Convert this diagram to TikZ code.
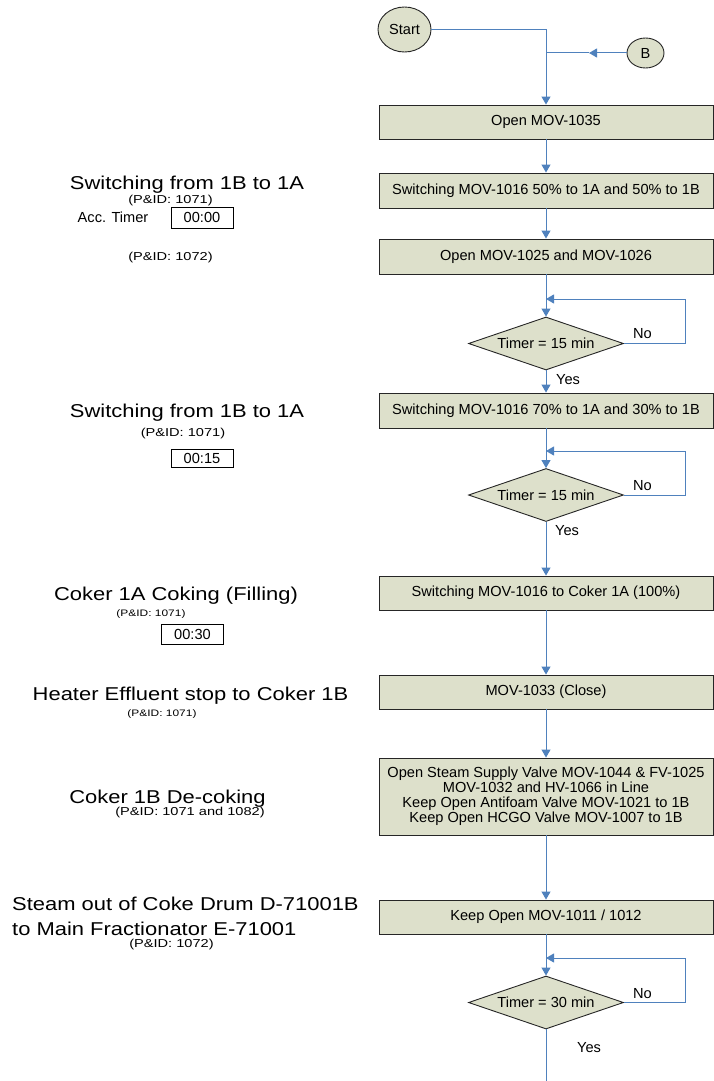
\documentclass[tikz,border=0pt]{standalone}
\usepackage{fontspec}
\setmainfont{Liberation Sans}
\newfontfamily\labelfont[FakeStretch=1.18]{Liberation Sans}
\newfontfamily\pidfont[FakeStretch=1.27]{Liberation Sans}
\usetikzlibrary{arrows.meta,shapes.geometric}
\definecolor{stepfill}{RGB}{221,224,203}
\definecolor{flowblue}{RGB}{79,129,189}
\begin{document}
\begin{tikzpicture}[x=1pt,y=-1pt,
  stepbox/.style={draw=black!85, fill=stepfill, line width=0.9pt,
    minimum width=334pt, minimum height=34pt, inner sep=0pt, align=center,
    font=\fontsize{14.6}{15}\selectfont},
  decision/.style={diamond, draw=black!85, fill=stepfill, line width=0.9pt,
    aspect=3, inner sep=0pt, minimum width=155pt, minimum height=53pt,
    font=\fontsize{14.6}{15}\selectfont},
  terminal/.style={ellipse, draw=black!85, fill=stepfill, line width=0.9pt,
    inner sep=0pt, font=\fontsize{14.6}{15}\selectfont},
  timerbox/.style={draw=black, line width=1pt, minimum width=62pt, inner sep=0pt,
    font=\fontsize{14.6}{15}\selectfont},
  flowline/.style={draw=flowblue, line width=1pt},
  flowarrow/.style={flowline, -{Triangle[width=9pt,length=8pt]}},
  biglabel/.style={anchor=base, inner sep=0pt, font=\labelfont\fontsize{18.6}{23}\selectfont},
  pid/.style={anchor=base, inner sep=0pt, font=\pidfont\fontsize{11.5}{13}\selectfont},
  smallpid/.style={anchor=base, inner sep=0pt, font=\pidfont\fontsize{9.4}{11}\selectfont},
  plain/.style={anchor=base, inner sep=0pt, font=\fontsize{14.6}{15}\selectfont},
]
\useasboundingbox (0,0) rectangle (714,1081);

% terminals
\node[terminal, minimum width=53pt, minimum height=45pt] (start) at (404.5,29.5) {Start};
\node[terminal, minimum width=37pt, minimum height=30pt] (bref) at (645.5,53) {B};

% process steps
\node[stepbox] (s1) at (546,122) {Open MOV-1035};
\node[stepbox, minimum height=35pt] (s2) at (546,190.5) {Switching MOV-1016 50\% to 1A and 50\% to 1B};
\node[stepbox, minimum height=35pt] (s3) at (546,256.5) {Open MOV-1025 and MOV-1026};
\node[decision] (d1) at (546,343.5) {Timer = 15 min};
\node[stepbox, minimum height=35pt] (s4) at (546,410.5) {Switching MOV-1016 70\% to 1A and 30\% to 1B};
\node[decision] (d2) at (546,495) {Timer = 15 min};
\node[stepbox] (s5) at (546,593) {Switching MOV-1016 to Coker 1A (100\%)};
\node[stepbox] (s6) at (546,692) {MOV-1033 (Close)};
\node[stepbox, minimum height=77pt] (s7) at (546,796.5) {Open Steam Supply Valve MOV-1044 \& FV-1025\\
  MOV-1032 and HV-1066 in Line\\ Keep Open Antifoam Valve MOV-1021 to 1B\\
  Keep Open HCGO Valve MOV-1007 to 1B};
\node[stepbox] (s8) at (546,917) {Keep Open MOV-1011 / 1012};
\node[decision] (d3) at (546,1002.5) {Timer = 30 min};

% junction points
\coordinate (jtop) at (546,29.5);
\coordinate (bjoin) at (546,53);
\coordinate (bmid) at (589,53);
\coordinate (r1) at (685,299);
\coordinate (m1) at (546,299);
\coordinate (r2) at (685,451);
\coordinate (m2) at (546,451);
\coordinate (r3) at (685,958);
\coordinate (m3) at (546,958);
\coordinate (tail) at (546,1081);

% connectors
\draw[flowarrow] (start.east) -- (jtop) -- (s1.north);
\draw[flowarrow] (bref.west) -- (bmid);
\draw[flowline] (bmid) -- (bjoin);
\draw[flowarrow] (s1) -- (s2);
\draw[flowarrow] (s2) -- (s3);
\draw[flowarrow] (s3) -- (d1);
\draw[flowarrow] (d1.east) -| (r1) -- (m1);
\draw[flowarrow] (d1) -- (s4);
\draw[flowarrow] (s4) -- (d2);
\draw[flowarrow] (d2.east) -| (r2) -- (m2);
\draw[flowarrow] (d2) -- (s5);
\draw[flowarrow] (s5) -- (s6);
\draw[flowarrow] (s6) -- (s7);
\draw[flowarrow] (s7) -- (s8);
\draw[flowarrow] (s8) -- (d3);
\draw[flowarrow] (d3.east) -| (r3) -- (m3);
\draw[flowline] (d3.south) -- (tail);

% branch labels
\node[plain, anchor=base west] (no1) at (633,338) {No};
\node[plain, anchor=base west] (yes1) at (556,384) {Yes};
\node[plain, anchor=base west] (no2) at (633,490) {No};
\node[plain, anchor=base west] (yes2) at (555,535) {Yes};
\node[plain, anchor=base west] (no3) at (633,998) {No};
\node[plain, anchor=base west] (yes3) at (577,1052) {Yes};

% stage descriptions
\node[biglabel] (t1) at (187,189) {Switching from 1B to 1A};
\node[pid] (p1) at (170.5,203) {(P\&ID: 1071)};
\node[plain] (acc) at (113,222) {Acc. Timer};
\node[timerbox, minimum height=21pt] (c1) at (202,217.5) {00:00};
\node[pid] (p1b) at (170.5,260) {(P\&ID: 1072)};

\node[biglabel] (t2) at (187,417) {Switching from 1B to 1A};
\node[pid] (p2) at (183,436) {(P\&ID: 1071)};
\node[timerbox, minimum height=18pt] (c2) at (202,458) {00:15};

\node[biglabel] (t3) at (176,600) {Coker 1A Coking (Filling)};
\node[smallpid] (p3) at (151,616) {(P\&ID: 1071)};
\node[timerbox, minimum height=20pt] (c3) at (192.5,634) {00:30};

\node[biglabel] (t4) at (190.5,700) {Heater Effluent stop to Coker 1B};
\node[smallpid] (p4) at (162,716) {(P\&ID: 1071)};

\node[biglabel] (t5) at (167.5,803) {Coker 1B De-coking};
\node[pid] (p5) at (190,815) {(P\&ID: 1071 and 1082)};

\node[biglabel, anchor=base west] (t6) at (12,910) {Steam out of Coke Drum D-71001B};
\node[biglabel, anchor=base west] (t6b) at (12,935) {to Main Fractionator E-71001};
\node[pid] (p6) at (171.5,947) {(P\&ID: 1072)};
\end{tikzpicture}
\end{document}
